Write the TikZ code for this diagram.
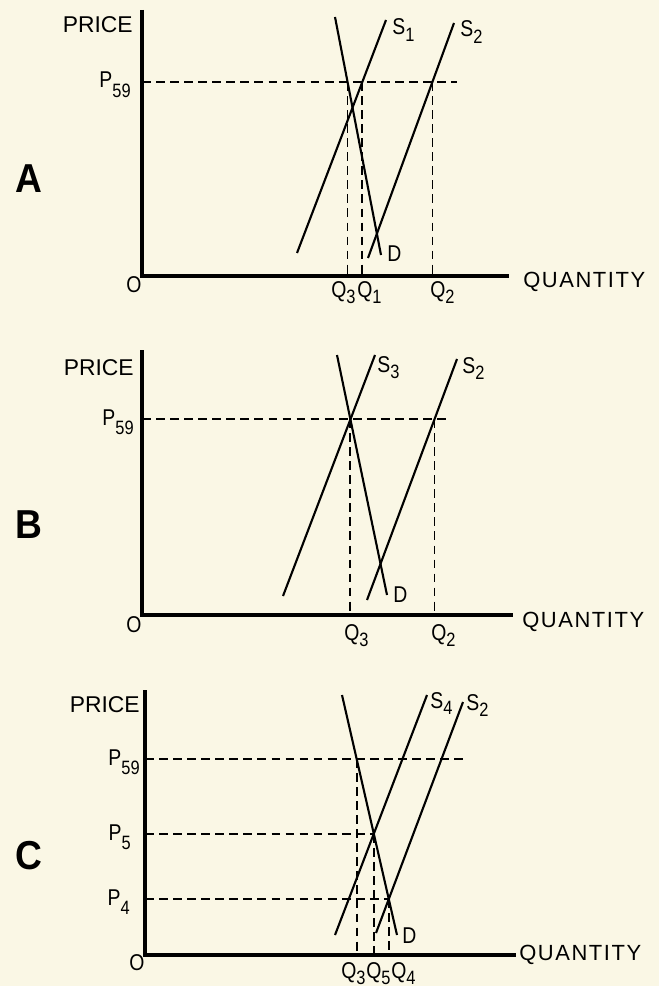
\documentclass[tikz,border=0pt]{standalone}
\usepackage{fontspec}
\setmainfont{Liberation Sans}
\newfontfamily\narrowfont{Liberation Sans}[FakeStretch=0.85]
\newfontfamily\spacedfont{Liberation Sans}[LetterSpace=7]
\newfontfamily\tagfont{Liberation Sans}[FakeStretch=0.92]
\usetikzlibrary{calc}
\definecolor{paper}{RGB}{250,247,229}
\newcommand{\lowsub}[2][-0.5ex]{\raisebox{#1}{\fontsize{11}{13}\selectfont #2}}
\tikzstyle{axisline} = [line width=1.8pt, line join=miter]
\tikzstyle{schedule} = [line width=1.2pt]
\tikzstyle{dashguide} = [line width=1pt, dash pattern=on 5pt off 3pt]
\tikzstyle{lbl} = [font=\narrowfont\fontsize{13}{15}\selectfont, inner sep=0pt]
\tikzstyle{title} = [font=\fontsize{13}{15}\selectfont, inner sep=0pt]
\tikzstyle{qtitle} = [font=\spacedfont\fontsize{12.5}{15}\selectfont, inner sep=0pt]
\tikzstyle{panel} = [font=\tagfont\bfseries\fontsize{23}{26}\selectfont, inner sep=0pt]

\begin{document}
\begin{tikzpicture}[x=0.02cm, y=-0.02cm]
\useasboundingbox (0,0) rectangle (659,986);
\fill[paper] (0,0) rectangle (659,986);

% panel A
\coordinate (oA) at (142,276);
\coordinate (topA) at (142,10);
\coordinate (endA) at (509,276);
\draw[axisline] (topA) -- (oA) -- (endA);
\coordinate (dAtop) at (335,17);
\coordinate (dAbot) at (381,255);
\coordinate (s1bot) at (297,253);
\coordinate (s1top) at (386,20);
\coordinate (s2Abot) at (368,258);
\coordinate (s2Atop) at (454,23);
\coordinate (pA) at (142,82);
\coordinate (pAend) at (457,82);
\draw[schedule] (dAtop) -- (dAbot);
\draw[schedule] (s1bot) -- (s1top);
\draw[schedule] (s2Abot) -- (s2Atop);
\draw[dashguide] (pA) -- (pAend);
\coordinate (qA3) at (intersection of dAtop--dAbot and pA--pAend);
\coordinate (qA1) at (intersection of s1bot--s1top and pA--pAend);
\coordinate (qA2) at (intersection of s2Abot--s2Atop and pA--pAend);
\draw[dashguide] (qA3) -- (qA3 |- oA);
\draw[dashguide] (qA1) -- (qA1 |- oA);
\draw[dashguide] (qA2) -- (qA2 |- oA);
\node (priceA) [title, anchor=base east] at (133,33) {PRICE};
\node (p59A) [lbl, anchor=base east] at (131,88) {P\lowsub[-0.8ex]{59}};
\node (s1lbl) [lbl, anchor=base west] at (392,35) {S\lowsub{1}};
\node (s2Albl) [lbl, anchor=base west] at (460,37) {S\lowsub{2}};
\node (dAlbl) [lbl, anchor=base west] at (387,262) {D};
\node (zeroA) [lbl] at (134,285) {O};
\node (quantA) [qtitle, anchor=base west] at (523,288) {QUANTITY};
\node (q3Albl) [lbl, anchor=base west] at (331,297) {Q\lowsub{3}};
\node (q1lbl) [lbl, anchor=base west] at (357,297) {Q\lowsub{1}};
\node (q2Albl) [lbl, anchor=base west] at (430,297) {Q\lowsub{2}};
\node (tagA) [panel, anchor=base west] at (15,193) {A};

% panel B
\coordinate (oB) at (142,615);
\coordinate (topB) at (142,350);
\coordinate (endB) at (513,615);
\draw[axisline] (topB) -- (oB) -- (endB);
\coordinate (dBtop) at (337,355);
\coordinate (dBbot) at (387,595);
\coordinate (s3bot) at (283,596);
\coordinate (s3top) at (375,355);
\coordinate (s2Bbot) at (367,600);
\coordinate (s2Btop) at (457,359);
\coordinate (pB) at (142,419);
\coordinate (pBend) at (450,419);
\draw[schedule] (dBtop) -- (dBbot);
\draw[schedule] (s3bot) -- (s3top);
\draw[schedule] (s2Bbot) -- (s2Btop);
\draw[dashguide] (pB) -- (pBend);
\coordinate (qB3) at (intersection of dBtop--dBbot and pB--pBend);
\coordinate (qB2) at (intersection of s2Bbot--s2Btop and pB--pBend);
\draw[dashguide] (qB3) -- (qB3 |- oB);
\draw[dashguide] (qB2) -- (qB2 |- oB);
\node (priceB) [title, anchor=base east] at (134,375) {PRICE};
\node (p59B) [lbl, anchor=base east] at (134,425) {P\lowsub[-0.8ex]{59}};
\node (s3lbl) [lbl, anchor=base west] at (377,372) {S\lowsub{3}};
\node (s2Blbl) [lbl, anchor=base west] at (462,373) {S\lowsub{2}};
\node (dBlbl) [lbl, anchor=base west] at (393,602) {D};
\node (zeroB) [lbl] at (134,625) {O};
\node (quantB) [qtitle, anchor=base west] at (522,627) {QUANTITY};
\node (q3Blbl) [lbl, anchor=base west] at (344,640) {Q\lowsub{3}};
\node (q2Blbl) [lbl, anchor=base west] at (431,640) {Q\lowsub{2}};
\node (tagB) [panel, anchor=base west] at (15,538) {B};

% panel C
\coordinate (oC) at (145,955);
\coordinate (topC) at (145,690);
\coordinate (endC) at (516,955);
\draw[axisline] (topC) -- (oC) -- (endC);
\coordinate (dCtop) at (342,695);
\coordinate (dCbot) at (397,935);
\coordinate (s4bot) at (335,935);
\coordinate (s4top) at (427,695);
\coordinate (s2Cbot) at (376,933);
\coordinate (s2Ctop) at (463,702);
\draw[schedule] (dCtop) -- (dCbot);
\draw[schedule] (s4bot) -- (s4top);
\draw[schedule] (s2Cbot) -- (s2Ctop);
\coordinate (pC) at (145,759);
\coordinate (pCend) at (465,759);
\coordinate (e5) at (intersection of dCtop--dCbot and s4bot--s4top);
\coordinate (e4) at (intersection of dCtop--dCbot and s2Cbot--s2Ctop);
\coordinate (qC3) at (intersection of dCtop--dCbot and pC--pCend);
\draw[dashguide] (pC) -- (pCend);
\draw[dashguide] (oC |- e5) -- (e5);
\draw[dashguide] (oC |- e4) -- (e4);
\draw[dashguide] (qC3) -- (qC3 |- oC);
\draw[dashguide] (e5) -- (e5 |- oC);
\draw[dashguide] (e4) -- (e4 |- oC);
\node (priceC) [title, anchor=base east] at (140,712) {PRICE};
\node (p59C) [lbl, anchor=base east] at (140,765) {P\lowsub[-0.8ex]{59}};
\node (p5lbl) [lbl, anchor=base east] at (131,840) {P\lowsub[-0.8ex]{5}};
\node (p4lbl) [lbl, anchor=base east] at (130,905) {P\lowsub[-0.8ex]{4}};
\node (s4lbl) [lbl, anchor=base west] at (430,708) {S\lowsub{4}};
\node (s2Clbl) [lbl, anchor=base west] at (466,710) {S\lowsub{2}};
\node (dClbl) [lbl, anchor=base west] at (402,943) {D};
\node (zeroC) [lbl] at (137,963) {O};
\node (quantC) [qtitle, anchor=base west] at (519,960) {QUANTITY};
\node (q3Clbl) [lbl, anchor=base west] at (341,978) {Q\lowsub{3}};
\node (q5lbl) [lbl, anchor=base west] at (366,978) {Q\lowsub{5}};
\node (q4lbl) [lbl, anchor=base west] at (391,978) {Q\lowsub{4}};
\node (tagC) [panel, anchor=base west] at (15,869) {C};
\end{tikzpicture}
\end{document}
